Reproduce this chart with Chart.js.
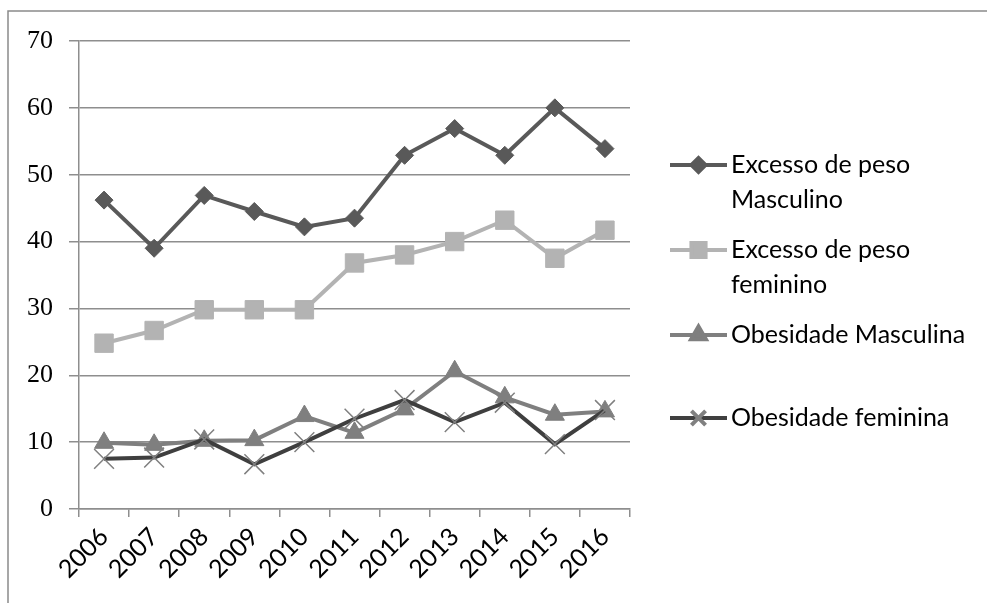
<!DOCTYPE html>
<html>
<head>
<meta charset="utf-8">
<style>
  html, body { margin: 0; padding: 0; background: #ffffff; }
  #wrap { width: 987px; height: 603px; position: relative; }
</style>
<script src="https://cdn.jsdelivr.net/npm/chart.js@4/dist/chart.umd.min.js"></script>
</head>
<body>
<div id="wrap"><canvas id="chart" width="987" height="603"></canvas></div>
<script>
// Anos da série
const years = ['2006', '2007', '2008', '2009', '2010', '2011', '2012', '2013', '2014', '2015', '2016'];

// Percentuais por ano
const excessoMasculino   = [46.2, 39.0, 46.9, 44.5, 42.2, 43.5, 52.9, 56.9, 52.9, 60.0, 53.9];
const excessoFeminino    = [24.8, 26.7, 29.8, 29.8, 29.8, 36.8, 38.0, 40.0, 43.2, 37.5, 41.7];
const obesidadeMasculina = [9.9, 9.6, 10.2, 10.3, 13.9, 11.4, 14.9, 20.6, 16.7, 14.1, 14.6];
const obesidadeFeminina  = [7.5, 7.7, 10.4, 6.7, 10.0, 13.5, 16.3, 13.0, 15.9, 9.7, 14.8];

// Eixo Y
const yTicks = [0, 10, 20, 30, 40, 50, 60, 70];

// Rótulos da legenda (quebrados em linhas)
const legendLabels = [
  ['Excesso de peso', 'Masculino'],
  ['Excesso de peso', 'feminino'],
  ['Obesidade Masculina'],
  ['Obesidade feminina']
];

const GRID = '#8e8e8e';

// Moldura superior e esquerda
const framePlugin = {
  id: 'frame',
  beforeDraw(chart) {
    const ctx = chart.ctx;
    ctx.save();
    ctx.fillStyle = '#ffffff';
    ctx.fillRect(0, 0, chart.width, chart.height);
    ctx.strokeStyle = '#8a8a8a';
    ctx.lineWidth = 1.5;
    ctx.beginPath();
    ctx.moveTo(8, chart.height);
    ctx.lineTo(8, 11);
    ctx.lineTo(chart.width, 11);
    ctx.stroke();
    ctx.restore();
  }
};

// Legenda à direita com rótulos em duas linhas
const sideLegend = {
  id: 'sideLegend',
  afterDraw(chart) {
    const ctx = chart.ctx;
    const x0 = 670, x1 = 727, textX = 731;
    const tops = [165, 250, 335, 418];
    const lineGap = 35;
    const sizes = [7, 10, 8.5, 10];
    ctx.save();
    chart.data.datasets.forEach((ds, i) => {
      const y = tops[i];
      ctx.strokeStyle = ds.borderColor;
      ctx.lineWidth = 4;
      ctx.beginPath();
      ctx.moveTo(x0, y);
      ctx.lineTo(x1, y);
      ctx.stroke();
      ctx.fillStyle = ds.pointBackgroundColor;
      ctx.strokeStyle = ds.pointBorderColor;
      Chart.helpers.drawPoint(ctx, {
        pointStyle: ds.pointStyle,
        radius: sizes[i],
        borderWidth: ds.pointBorderWidth,
        rotation: 0
      }, (x0 + x1) / 2, y);
      ctx.fillStyle = '#000000';
      ctx.font = '25px Lato';
      ctx.textAlign = 'left';
      ctx.textBaseline = 'middle';
      legendLabels[i].forEach((t, k) => ctx.fillText(t, textX, y + k * lineGap));
    });
    ctx.restore();
  }
};

new Chart(document.getElementById('chart'), {
  type: 'line',
  data: {
    labels: years,
    datasets: [
      {
        label: legendLabels[0].join(' '),
        data: excessoMasculino,
        borderColor: '#595959',
        borderWidth: 4,
        pointStyle: 'rectRot',
        pointRadius: 9,
        pointBackgroundColor: '#595959',
        pointBorderColor: '#595959',
        pointBorderWidth: 1,
        order: 2
      },
      {
        label: legendLabels[1].join(' '),
        data: excessoFeminino,
        borderColor: '#b3b3b3',
        borderWidth: 4,
        pointStyle: 'rect',
        pointRadius: 13,
        pointBackgroundColor: '#b3b3b3',
        pointBorderColor: '#b3b3b3',
        pointBorderWidth: 1,
        order: 3
      },
      {
        label: legendLabels[2].join(' '),
        data: obesidadeMasculina,
        borderColor: '#7f7f7f',
        borderWidth: 4,
        pointStyle: 'triangle',
        pointRadius: 11,
        pointBackgroundColor: '#7f7f7f',
        pointBorderColor: '#7f7f7f',
        pointBorderWidth: 1,
        order: 1
      },
      {
        label: legendLabels[3].join(' '),
        data: obesidadeFeminina,
        borderColor: '#3f3f3f',
        borderWidth: 4,
        pointStyle: 'crossRot',
        pointRadius: 14,
        pointBackgroundColor: '#808080',
        pointBorderColor: '#808080',
        pointBorderWidth: 1.5,
        order: 0
      }
    ]
  },
  options: {
    responsive: false,
    animation: false,
    events: [],
    layout: { padding: { left: 0, top: 41, right: 357, bottom: 0 } },
    plugins: {
      legend: { display: false },
      tooltip: { enabled: false },
      title: { display: false }
    },
    elements: { line: { tension: 0 } },
    scales: {
      x: {
        type: 'category',
        offset: true,
        grid: {
          offset: true,
          drawOnChartArea: false,
          drawTicks: true,
          tickLength: 8,
          color: GRID,
          lineWidth: 1.5
        },
        border: { display: true, color: GRID, width: 1.5 },
        ticks: {
          minRotation: 45,
          maxRotation: 45,
          autoSkip: false,
          padding: 5,
          color: '#000000',
          font: { family: 'Lato', size: 25 }
        },
        afterFit(scale) { scale.height = 94; }
      },
      y: {
        min: 0,
        max: 70,
        afterBuildTicks(scale) { scale.ticks = yTicks.map(v => ({ value: v })); },
        grid: {
          drawTicks: true,
          tickLength: 10,
          color: GRID,
          lineWidth: 1.5
        },
        border: { display: true, color: GRID, width: 1.5 },
        ticks: {
          padding: 16,
          color: '#000000',
          font: { family: 'Liberation Serif', size: 26 }
        },
        afterFit(scale) { scale.width = 79; }
      }
    }
  },
  plugins: [framePlugin, sideLegend]
});
</script>
</body>
</html>
